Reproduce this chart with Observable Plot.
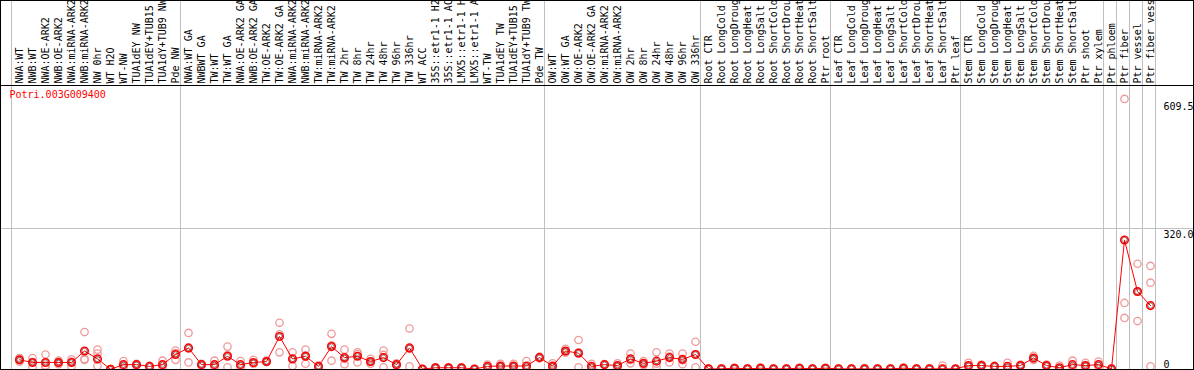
<!DOCTYPE html>
<html><head><meta charset="utf-8">
<script src="https://cdn.jsdelivr.net/npm/d3@7"></script>
<script src="https://cdn.jsdelivr.net/npm/@observablehq/plot@0.6"></script>
<style>
body{margin:0;background:#fff}
#chart svg{display:block;outline:1px solid #000;outline-offset:-1px;overflow:hidden}
</style></head><body><div id="chart"></div>
<script>
const geneName = "Potri.003G009400";
const samples = [
"NWA:WT","NWB:WT","NWA:OE-ARK2","NWB:OE-ARK2","NWA:miRNA-ARK2","NWB:miRNA-ARK2","NW 0hr","WT H2O","WT-NW","TUA1dEY NW","TUA1dEY+TUB15","TUA1dY+TUB9 NW","Pde NW",
"NWA:WT GA","NWBWT GA","TW:WT","TW:WT GA","NWA:OE-ARK2 GA","NWB:OE-ARK2 GA","TW:OE-ARK2","TW:OE-ARK2 GA","NWA:miRNA-ARK2","NWB:miRNA-ARK2","TW:miRNA-ARK2","TW:miRNA-ARK2","TW 2hr","TW 8hr","TW 24hr","TW 48hr","TW 96hr","TW 336hr","WT ACC","35S::etr1-1 H2","35S::etr1-1 AC","LMX5::etr1-1 H","LMX5::etr1-1 A","WT-TW","TUA1dEY TW","TUA1dEY+TUB15","TUA1dY+TUB9 TW","Pde TW",
"OW:WT","OW:WT GA","OW:OE-ARK2","OW:OE-ARK2 GA","OW:miRNA-ARK2","OW:miRNA-ARK2","OW 2hr","OW 8hr","OW 24hr","OW 48hr","OW 96hr","OW 336hr",
"Root CTR","Root LongCold","Root LongDroug","Root LongHeat","Root LongSalt","Root ShortCold","Root ShortDrou","Root ShortHeat","Root ShortSalt","Ptr root",
"Leaf CTR","Leaf LongCold","Leaf LongDroug","Leaf LongHeat","Leaf LongSalt","Leaf ShortCold","Leaf ShortDrou","Leaf ShortHeat","Leaf ShortSalt","Ptr leaf",
"Stem CTR","Stem LongCold","Stem LongDroug","Stem LongHeat","Stem LongSalt","Stem ShortCold","Stem ShortDrou","Stem ShortHeat","Stem ShortSalt","Ptr shoot","Ptr xylem",
"Ptr phloem","Ptr fiber","Ptr vessel","Ptr fiber vess"
];
const groupStarts = [0,13,41,53,63,73,84,85,86,87,88];
const means = [22,16,16,16,16,42,24,0.5,11,11,7,11,34,
49,11,11,30,11,16,18,75,24,30,7,52,27,30,18,27,11,49,1,4,4,4,1,7,8,8,8,27,
8,42,37,7,11,9,24,14,19,27,23,34,
1.5,1.5,3,1.5,3,1.5,1.5,3,1.5,3,
1.5,1.5,1.5,1.5,1.5,3,1.5,1.5,1.5,1.5,
9,9,7,7,9,26,9,4,11,9,11,
1.5,294,177,145];
const rep1 = [26,26,34,20,18,85,45,1,19,13,8,20,43,
83,13,20,52,19,22,20,106,39,45,9,81,45,39,24,43,14,93,1,4,4,5,1,11,13,13,19,29,
14,47,67,13,11,14,36,19,39,36,36,63,
2,2,4,2,5,2,2,4,2,4,
2,2,3,2,2,5,2,2,9,1,
15,11,8,15,11,31,11,9,20,15,18,
2,614,240,235];
const rep2 = [22,5,5,12,7,22,36,0,5,9,6,10,22,
16,9,5,5,7,13,17,39,8,13,6,20,12,35,13,5,10,7,1,3,3,3,1,5,6,6,3,26,
5,38,5,4,10,6,14,10,5,16,12,5,
1,1,2,1,2,1,1,2,1,2,
1,1,1,1,1,2,1,1,1,1,
6,8,6,3,8,24,8,1,6,6,8,
1,151,110,197];
const rep3 = [18,17,9,16,23,24,8,1,9,11,7,3,37,
48,11,8,33,7,13,17,80,25,32,6,55,24,16,17,33,9,47,1,5,5,4,1,5,5,5,2,26,
5,41,39,4,12,7,22,13,13,29,21,34,
1.5,1.5,3,1.5,2,1.5,1.5,3,1.5,3,
1.5,1.5,1,1.5,1.5,2,1.5,1.5,1,1,
6,8,7,3,8,22,8,1,6,6,7,
1,117,177,7];
const yTicks = [0, 320, 609.5];
const yTickLabels = ["0", "320.0", "609.5"];

const W = 1194, H = 370, headerH = 85;
const yTop = 644.5;
const reps = [];
[rep1, rep2, rep3].forEach(r => r.forEach((v, i) => reps.push({i, v})));
const groupLines = groupStarts.map(g => g - 8 / 13);
const font = "DejaVu Sans Mono";

const chart = Plot.plot({
  width: W, height: H,
  marginTop: headerH, marginBottom: 1, marginLeft: 0, marginRight: 0,
  x: {type: "linear", domain: [0, samples.length - 1], range: [19, 19 + 13 * (samples.length - 1)], axis: null},
  y: {type: "linear", domain: [0, yTop], axis: null},
  style: {fontFamily: font, fontSize: "10px", background: "#fff"},
  marks: [
    Plot.ruleY([320], {stroke: "#c0c0c0", strokeWidth: 1}),
    Plot.ruleX(groupLines, {x: d => d, stroke: "#c0c0c0", strokeWidth: 1, insetTop: -headerH}),
    Plot.ruleY([yTop], {stroke: "#000", strokeWidth: 1}),
    Plot.text(samples, {x: (d, i) => i, text: d => d, frameAnchor: "top", dy: -2, rotate: -90, textAnchor: "start", lineAnchor: "middle", fill: "#000", fontFamily: font, fontSize: 10}),
    Plot.text([geneName], {frameAnchor: "top-left", dx: 9, dy: 5, textAnchor: "start", lineAnchor: "top", fill: "red", fontFamily: font, fontSize: 10}),
    Plot.text(yTicks.slice(1), {y: d => d, text: (d, i) => yTickLabels[i + 1], frameAnchor: "right", dx: -31, textAnchor: "start", lineAnchor: "top", dy: 2, fill: "#000", fontFamily: font, fontSize: 10}),
    Plot.text(yTicks.slice(0, 1), {y: d => d, text: (d, i) => yTickLabels[i], frameAnchor: "right", dx: -31, textAnchor: "start", lineAnchor: "bottom", dy: -2, fill: "#000", fontFamily: font, fontSize: 10}),
    Plot.dot(reps, {x: "i", y: "v", r: 3.7, stroke: "#ee9a9a", strokeWidth: 1.3, fill: "none"}),
    Plot.line(means, {x: (d, i) => i, y: d => d, stroke: "red", strokeWidth: 1}),
    Plot.dot(means, {x: (d, i) => i, y: d => d, r: 3.8, stroke: "red", strokeWidth: 1.5, fill: "none"}),
    Plot.dot(means, {x: (d, i) => i, y: d => d, r: 2.6, stroke: "#300", strokeWidth: 0.5, fill: "none"})
  ]
});
document.getElementById("chart").appendChild(chart);
</script></body></html>
